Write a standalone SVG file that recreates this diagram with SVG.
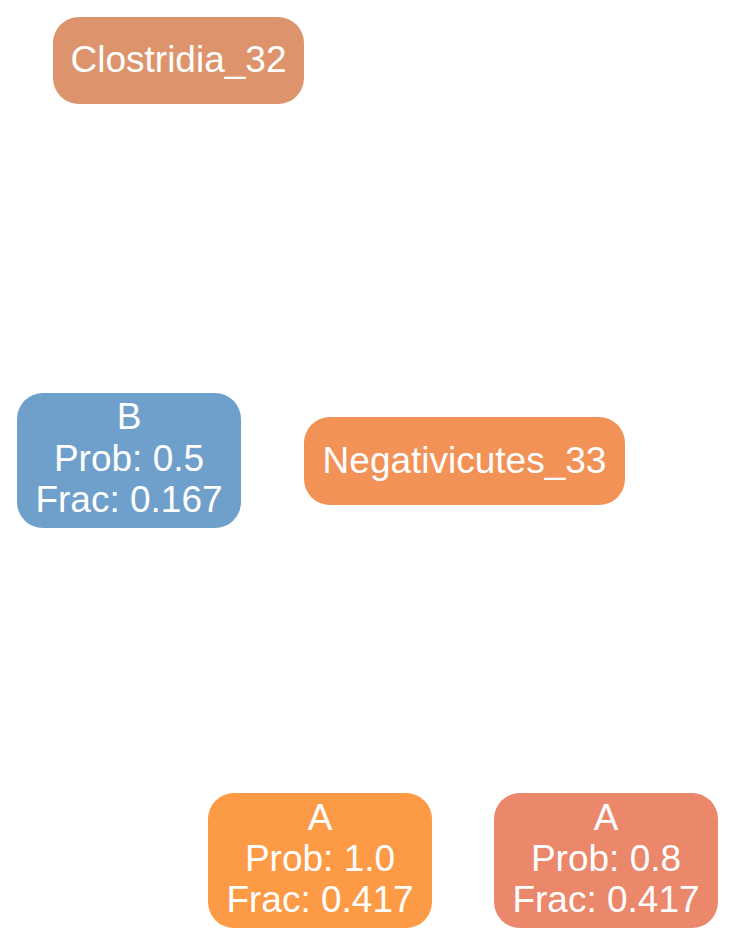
<svg xmlns="http://www.w3.org/2000/svg" width="736" height="946" viewBox="0 0 736 946">
<style>
.box{stroke:none}
text{font-family:"Liberation Sans",Arial,Helvetica,sans-serif;font-size:37px;fill:#ffffff;text-anchor:middle}
</style>
<rect width="736" height="946" fill="#ffffff"/>
<g id="connectors"></g>
<g id="clostridia_32">
<rect class="box" x="53" y="17" width="251" height="87" rx="26" fill="#dd946c"/>
<text x="178.5" y="72">Clostridia_32</text>
</g>
<g id="node_b">
<rect class="box" x="17" y="393" width="224" height="135" rx="26" fill="#6fa0cb"/>
<text x="129" y="429">B</text>
<text x="129" y="471">Prob: 0.5</text>
<text x="129" y="512">Frac: 0.167</text>
</g>
<g id="negativicutes_33">
<rect class="box" x="304" y="417" width="321" height="88" rx="26" fill="#f39257"/>
<text x="464.5" y="473">Negativicutes_33</text>
</g>
<g id="node_a1">
<rect class="box" x="208" y="793" width="224" height="135" rx="26" fill="#fd9a46"/>
<text x="320" y="830">A</text>
<text x="320" y="871">Prob: 1.0</text>
<text x="320" y="912">Frac: 0.417</text>
</g>
<g id="node_a2">
<rect class="box" x="494" y="793" width="224" height="135" rx="26" fill="#eb886b"/>
<text x="606" y="830">A</text>
<text x="606" y="871">Prob: 0.8</text>
<text x="606" y="912">Frac: 0.417</text>
</g>
</svg>
